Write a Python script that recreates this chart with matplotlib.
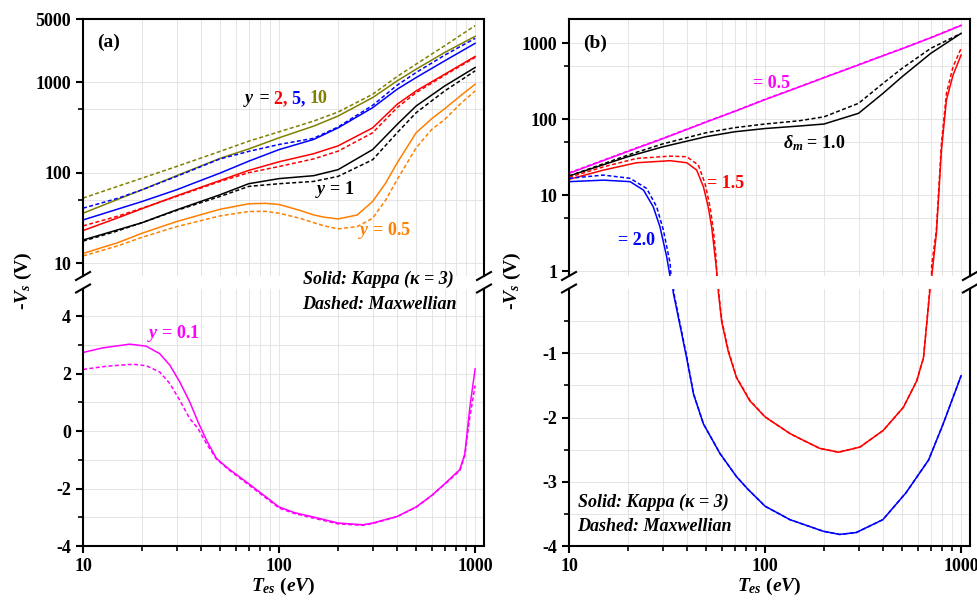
import numpy as np
import matplotlib
matplotlib.use('Agg')
import matplotlib.pyplot as plt
from matplotlib import transforms
from matplotlib.lines import Line2D
from matplotlib.ticker import FixedLocator, FixedFormatter, NullFormatter, LogLocator

plt.rcParams.update({
    'font.family': ['Liberation Serif', 'DejaVu Serif'],
    'font.weight': 'bold',
    'font.size': 13,
    'mathtext.fontset': 'custom',
    'mathtext.rm': 'Liberation Serif:bold',
    'mathtext.it': 'Liberation Serif:italic:bold',
    'mathtext.bf': 'Liberation Serif:bold',
    'axes.unicode_minus': False,
    'axes.linewidth': 1.5,
})

# ---------------- panel (a): different y ----------------
T_a = [10, 15, 20, 30, 50, 70, 100, 150, 200, 300, 400, 500, 700, 1000]
y10_k = [35.6, 50.6, 64.7, 92.6, 144, 183, 243, 327, 423, 676, 1035, 1393, 2135, 3214]
y10_m = [52.4, 70.5, 87, 117, 172, 223, 283, 372, 468, 736, 1156, 1585, 2535, 4227]
y5_k = [30, 39.5, 48, 64.7, 99, 134, 180, 233, 313, 523, 836, 1127, 1726, 2692]
y5_m = [40.5, 52, 64.7, 91, 142, 172, 205, 240, 320, 555, 927, 1280, 1995, 3055]
y2_k = [22.9, 31.6, 40, 55.5, 82, 106, 132, 162, 198, 313, 570, 802, 1227, 1928]
y2_m = [25.8, 33, 40.5, 54.6, 80, 100, 117, 142, 173, 276, 523, 768, 1197, 1879]
y1_k = [18, 23.3, 28, 38.8, 57, 75.5, 86, 92.6, 108, 180, 341, 546, 910, 1456]
y1_m = [17.5, 22.7, 28, 38.2, 54.6, 70.5, 75.5, 80, 91, 139, 276, 460, 802, 1337]

T_y05 = [10, 15, 20, 30, 50, 70, 85, 100, 128, 150, 170, 200, 250, 300, 350, 400, 500, 600, 700, 850, 1000]
y05_k = [12.8, 16.8, 21.4, 28.8, 39.4, 45.3, 45.8, 44.5, 38.2, 34.1, 32.2, 30.8, 34, 48, 77, 128, 276, 395, 510,
         720, 951]
y05_m = [12, 15.5, 19.3, 25.3, 33.3, 37.2, 37.4, 35.6, 31.3, 28, 25.8, 23.9, 25.3, 31.3, 50, 83.6, 188, 300, 388,
         590, 801]

T_y01_k = [10, 12.6, 17.3, 21, 24.6, 27.7, 31.1, 35, 38.6, 42.6, 47.9, 55, 70, 100, 120, 150, 200, 268, 300,
           400, 500, 600, 700, 835, 886, 940, 1000]
y01_k = [2.74, 2.90, 3.03, 2.96, 2.70, 2.30, 1.72, 1.02, 0.32, -0.31, -0.95, -1.3, -1.83, -2.64, -2.84, -2.99,
         -3.2, -3.26, -3.2, -2.97, -2.64, -2.24, -1.83, -1.34, -0.79, 0.83, 2.17]
T_y01_m = [10, 13.1, 18, 21, 24.6, 27.7, 31.1, 35, 38.6, 42.6, 47.9, 55, 70, 100, 120, 150, 200, 268, 300,
           400, 500, 600, 700, 835, 886, 940, 1000]
y01_m = [2.15, 2.26, 2.33, 2.28, 2.06, 1.66, 1.08, 0.44, 0.09, -0.43, -0.97, -1.33, -1.87, -2.68, -2.87, -3.03,
         -3.23, -3.28, -3.22, -2.98, -2.65, -2.25, -1.85, -1.38, -0.85, 0.5, 1.59]

# ---------------- panel (b): different delta_m ----------------
T_b = [10, 20, 30, 50, 70, 100, 150, 200, 300, 400, 500, 700, 1000]
d05_k = [19.3, 37.5, 55, 91, 126, 180, 265, 350, 515, 680, 840, 1170, 1700]
d05_m = [19.6, 38, 55.6, 92, 127, 182, 267, 353, 520, 686, 848, 1180, 1720]
d10_k = [17.8, 32, 43, 58.6, 68, 75, 81, 86, 119, 218, 360, 731, 1340]
d10_m = [17.8, 33.6, 47, 66, 77, 86, 95, 107, 161, 295, 464, 851, 1340]

T_d15_k = [10, 15, 22.1, 32.8, 39.9, 44.8, 48.5, 51.3, 53.4, 56.6, 57.3, 57.8, 60.1, 64.9, 71.5, 83.6, 100,
           134, 151, 190, 237, 305, 401, 508, 594, 643, 667, 692, 706, 710, 748, 794, 842, 910, 1000]
d15_k = [16.1, 21.3, 26.6, 28.3, 26.6, 21.3, 12.8, 7.0, 3.83, 1.03, 0.5, -0.05, -0.51, -0.97, -1.38, -1.74,
         -1.99, -2.25, -2.33, -2.48, -2.54, -2.46, -2.2, -1.84, -1.43, -1.07, -0.56, -0.05, 0.3, 0.9, 3.1, 39,
         178, 379, 695]
T_d15_m = [10, 15, 22.1, 32.8, 39.9, 45.7, 49.4, 52.4, 54.5, 56.1, 57.5, 58, 60.1, 64.9, 71.5, 83.6, 100,
           134, 151, 190, 237, 305, 401, 508, 594, 643, 667, 690, 704, 708, 748, 794, 842, 910, 1000]
d15_m = [17.1, 23.5, 30.3, 32.5, 31.9, 24.8, 14.2, 7.0, 3.46, 1.6, 0.5, -0.05, -0.48, -0.95, -1.37, -1.73,
         -1.99, -2.25, -2.33, -2.48, -2.54, -2.46, -2.2, -1.84, -1.43, -1.07, -0.56, -0.05, 0.5, 1.2, 3.46, 47.9,
         218, 489, 850]

T_d20_k = [10, 15, 20.5, 24, 26.9, 29.1, 31.5, 32.8, 33.5, 34, 36.8, 39.8, 43.2, 48.5, 58.9, 71.5, 82, 100,
           134, 198, 240, 292, 399, 524, 683, 810, 1000]
d20_k = [15, 15.7, 15, 11.6, 7.0, 3.83, 1.54, 0.84, 0.4, -0.05, -0.56, -1.07, -1.64, -2.1, -2.56, -2.92, -3.12,
         -3.38, -3.59, -3.77, -3.82, -3.79, -3.59, -3.17, -2.66, -2.1, -1.35]
T_d20_m = [10, 15, 20.5, 24.9, 28, 30.3, 32.8, 33.6, 34.2, 36.9, 39.9, 43.2, 48.5, 58.9, 71.5, 82, 100,
           134, 198, 240, 292, 399, 524, 683, 810, 1000]
d20_m = [16.6, 18.3, 16.6, 12.2, 7.0, 3.46, 1.26, 0.5, -0.05, -0.55, -1.06, -1.63, -2.1, -2.56, -2.92, -3.12,
         -3.38, -3.59, -3.77, -3.82, -3.79, -3.59, -3.17, -2.66, -2.1, -1.35]

RED, BLUE, OLIVE, ORANGE, MAG = '#ff0000', '#0000ff', '#808000', '#ff8000', '#ff00ff'
LW = 1.1
DASH = (2.6, 1.6)

W, H = 977, 602
fig = plt.figure(figsize=(W / 100, H / 100), dpi=100)


def make_pair(left, top_lim, top_major, top_minor, bot_lim, bot_major, bot_minor):
    ax_t = fig.add_axes([left, 0.5415, 0.4104, 0.4269])
    ax_b = fig.add_axes([left, 0.0930, 0.4104, 0.4269], sharex=ax_t)
    for ax in (ax_t, ax_b):
        ax.set_xscale('log')
        ax.set_xlim(10, 1110)
        ax.grid(True, which='both', color='#e0e0e0', lw=0.6)
        ax.set_axisbelow(True)
        ax.tick_params(which='major', direction='out', length=5, width=1.5, labelsize=13)
        ax.tick_params(which='minor', direction='out', length=3.5, width=1.2)
    ax_b.xaxis.set_major_locator(FixedLocator([10, 100, 1000]))
    ax_b.xaxis.set_major_formatter(FixedFormatter(['10', '100', '1000']))
    ax_b.xaxis.set_minor_locator(LogLocator(subs=np.arange(2, 10)))
    ax_b.xaxis.set_minor_formatter(NullFormatter())
    ax_t.tick_params(axis='x', which='both', bottom=False, labelbottom=False)
    ax_t.spines['bottom'].set_visible(False)
    ax_b.spines['top'].set_visible(False)

    ax_t.set_yscale('log')
    ax_t.set_ylim(*top_lim)
    ax_t.yaxis.set_major_locator(FixedLocator(top_major))
    ax_t.yaxis.set_major_formatter(FixedFormatter([str(v) for v in top_major]))
    ax_t.yaxis.set_minor_locator(FixedLocator(top_minor))
    ax_t.yaxis.set_minor_formatter(NullFormatter())

    ax_b.set_ylim(*bot_lim)
    ax_b.yaxis.set_major_locator(FixedLocator(bot_major))
    ax_b.yaxis.set_major_formatter(FixedFormatter([str(v) for v in bot_major]))
    ax_b.yaxis.set_minor_locator(FixedLocator(bot_minor))

    # break marks on both spines
    lpx = left * W
    rpx = (left + 0.4104) * W
    for xp in (lpx, rpx):
        for yp in (276, 288.5):
            fig.add_artist(Line2D([(xp - 7) / W, (xp + 7) / W], [1 - (yp + 4) / H, 1 - (yp - 4) / H],
                                  color='k', lw=1.5))
    return ax_t, ax_b


axA_t, axA_b = make_pair(0.0850, (7.2, 5000), [10, 100, 1000, 5000], [50, 500],
                         (-4, 4.95), [-4, -2, 0, 2, 4], [-3, -1, 1, 3])
axB_t, axB_b = make_pair(0.5824, (0.86, 2070), [1, 10, 100, 1000], [5, 50, 500],
                         (-4, 0), [-4, -3, -2, -1], [-3.5, -2.5, -1.5, -0.5])

# panel (a) curves
for vk, vm, c in [(y10_k, y10_m, OLIVE), (y5_k, y5_m, BLUE), (y2_k, y2_m, RED), (y1_k, y1_m, 'k')]:
    axA_t.plot(T_a, vm, color=c, lw=LW, dashes=DASH)
    axA_t.plot(T_a, vk, color=c, lw=LW)
axA_t.plot(T_y05, y05_m, color=ORANGE, lw=LW, dashes=DASH)
axA_t.plot(T_y05, y05_k, color=ORANGE, lw=LW)
axA_b.plot(T_y01_m, y01_m, color=MAG, lw=LW, dashes=DASH)
axA_b.plot(T_y01_k, y01_k, color=MAG, lw=LW)

# panel (b) curves: positive part on the log axis, whole curve on the linear axis
for tk, vk, tm, vm, c in [(T_b, d05_k, T_b, d05_m, MAG), (T_b, d10_k, T_b, d10_m, 'k'),
                          (T_d15_k, d15_k, T_d15_m, d15_m, RED), (T_d20_k, d20_k, T_d20_m, d20_m, BLUE)]:
    vk = np.array(vk, float)
    vm = np.array(vm, float)
    axB_t.plot(tm, np.where(vm > 0, vm, np.nan), color=c, lw=LW, dashes=DASH)
    axB_t.plot(tk, np.where(vk > 0, vk, np.nan), color=c, lw=LW)
    axB_b.plot(tm, vm, color=c, lw=LW, dashes=DASH)
    axB_b.plot(tk, vk, color=c, lw=LW)


# ---------------- text ----------------
def rainbow(x, y, parts, size=13):
    r = fig.canvas.get_renderer()
    tr = fig.transFigure
    for s, c in parts:
        t = fig.text(x, y, s, color=c, transform=tr, va='baseline', fontsize=size)
        ex = t.get_window_extent(r)
        tr = transforms.offset_copy(t.get_transform(), fig=fig, x=ex.width, units='dots')


rainbow(0.2487, 0.829, [('$y$', 'k'), (' = ', 'k'), ('2, ', RED), ('5, ', BLUE), ('10', OLIVE)])
fig.text(0.0993, 0.930, '(a)', fontsize=14, va='center')
fig.text(0.3224, 0.6844, '$y$ = 1', fontsize=13, va='center', color='k')
fig.text(0.3664, 0.6163, '$y$ = 0.5', fontsize=13, va='center', color=ORANGE)
fig.text(0.1505, 0.4468, '$y$ = 0.1', fontsize=13, va='center', color=MAG)
fig.text(0.3101, 0.5365, 'Solid: Kappa (κ = 3)', fontsize=13, style='italic', va='center')
fig.text(0.3091, 0.4950, 'Dashed: Maxwellian', fontsize=13, style='italic', va='center')

fig.text(0.5967, 0.9286, '(b)', fontsize=14, va='center')
fig.text(0.7707, 0.8605, '= 0.5', fontsize=13, va='center', color=MAG)
fig.text(0.8014, 0.7542, r'$\delta_m$ = 1.0', fontsize=13, va='baseline', color='k')
fig.text(0.7236, 0.6960, '= 1.5', fontsize=13, va='center', color=RED)
fig.text(0.6325, 0.6013, '= 2.0', fontsize=13, va='center', color=BLUE)
fig.text(0.5916, 0.1661, 'Solid: Kappa (κ = 3)', fontsize=13, style='italic', va='center')
fig.text(0.5906, 0.1246, 'Dashed: Maxwellian', fontsize=13, style='italic', va='center')

for x in (0.0235, 0.524):
    fig.text(x, 0.533, '-$V_s$ (V)', rotation=90, fontsize=14, ha='center', va='center')
for x in (0.2897, 0.787):
    fig.text(x, 0.0266, '$T_{es}$ $(eV)$', fontsize=14, ha='center', va='center')

fig.savefig('out.png', dpi=100)
